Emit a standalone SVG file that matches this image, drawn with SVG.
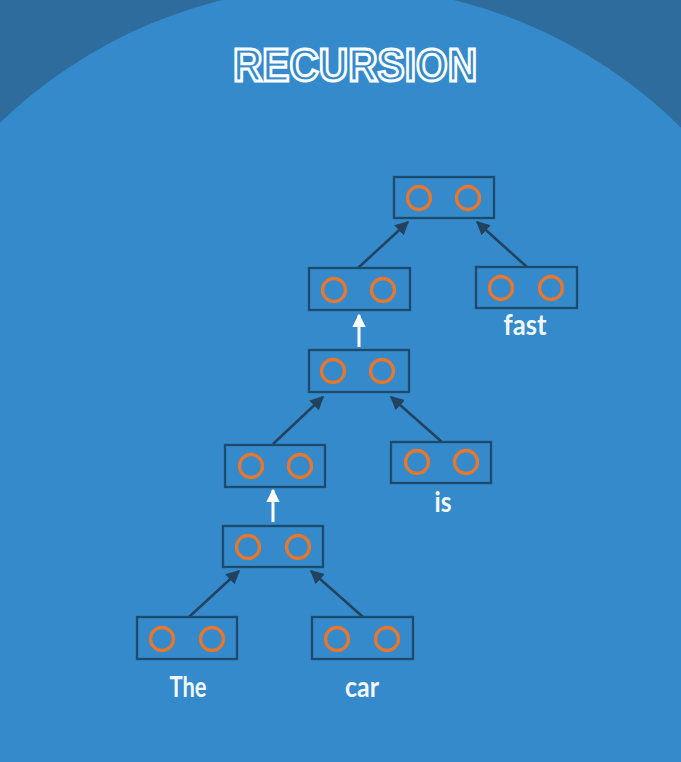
<svg xmlns="http://www.w3.org/2000/svg" width="681" height="762" viewBox="0 0 681 762">
<defs>
<style>
.box{fill:none;stroke:#1e4a6d;stroke-width:2.3}
.dot{fill:none;stroke:#e8772e;stroke-width:3.3}
.edge{stroke:#22425f;stroke-width:2.5;fill:none}
.up{stroke:#ffffff;stroke-width:3;fill:none}
.lbl{font-family:Lato,"Open Sans",sans-serif;font-size:28px;font-weight:bold;fill:#f2f7fb;text-anchor:middle}
</style>
<marker id="ah" viewBox="0 0 10 10" refX="9" refY="5" markerWidth="5.5" markerHeight="5.5" orient="auto" markerUnits="strokeWidth">
<path d="M0,0 L10,5 L0,10 Z" fill="#22425f"/>
</marker>
<marker id="wh" viewBox="0 0 10 10" refX="9" refY="5" markerWidth="4.5" markerHeight="4.5" orient="auto" markerUnits="strokeWidth">
<path d="M0,0 L10,5 L0,10 Z" fill="#ffffff"/>
</marker>
</defs>
<rect width="681" height="762" fill="#2d6c9c"/>
<circle cx="338" cy="472" r="486" fill="#348acb"/>
<text x="355" y="81" text-anchor="middle" font-family="'Liberation Sans',sans-serif" font-weight="bold" font-size="46" textLength="244" lengthAdjust="spacingAndGlyphs" fill="#348acb" stroke="#ffffff" stroke-width="3">RECURSION</text>
<g id="connectors">
<line class="edge" x1="358" y1="268" x2="408" y2="222" marker-end="url(#ah)"/>
<line class="edge" x1="527" y1="267" x2="477" y2="222" marker-end="url(#ah)"/>
<line class="up" x1="359" y1="347" x2="359" y2="315" marker-end="url(#wh)"/>
<line class="edge" x1="273" y1="444" x2="323" y2="397" marker-end="url(#ah)"/>
<line class="edge" x1="442" y1="442" x2="391" y2="397" marker-end="url(#ah)"/>
<line class="up" x1="273" y1="522" x2="273" y2="490" marker-end="url(#wh)"/>
<line class="edge" x1="189" y1="617" x2="239" y2="571" marker-end="url(#ah)"/>
<line class="edge" x1="363" y1="617" x2="311" y2="571" marker-end="url(#ah)"/>
</g>
<g id="n-top"><rect class="box" x="394" y="177" width="100" height="41"/><circle class="dot" cx="419" cy="198" r="11.5"/><circle class="dot" cx="468" cy="198" r="11.5"/></g>
<g id="n-fast"><rect class="box" x="476" y="267" width="101" height="41"/><circle class="dot" cx="501" cy="288" r="11.5"/><circle class="dot" cx="551" cy="288" r="11.5"/><text class="lbl" x="525" y="335" textLength="43" lengthAdjust="spacingAndGlyphs">fast</text></g>
<g id="n-l2"><rect class="box" x="309" y="268" width="101" height="42"/><circle class="dot" cx="334" cy="290" r="11.5"/><circle class="dot" cx="383" cy="290" r="11.5"/></g>
<g id="n-l3"><rect class="box" x="309" y="350" width="100" height="42"/><circle class="dot" cx="333" cy="371" r="11.5"/><circle class="dot" cx="382" cy="371" r="11.5"/></g>
<g id="n-l4"><rect class="box" x="225" y="445" width="100" height="42"/><circle class="dot" cx="251" cy="466" r="11.5"/><circle class="dot" cx="300" cy="466" r="11.5"/></g>
<g id="n-is"><rect class="box" x="391" y="442" width="100" height="41"/><circle class="dot" cx="417" cy="462" r="11.5"/><circle class="dot" cx="466" cy="462" r="11.5"/><text class="lbl" x="443" y="512" textLength="17" lengthAdjust="spacingAndGlyphs">is</text></g>
<g id="n-l5"><rect class="box" x="223" y="526" width="100" height="41"/><circle class="dot" cx="248" cy="547" r="11.5"/><circle class="dot" cx="298" cy="547" r="11.5"/></g>
<g id="n-the"><rect class="box" x="137" y="617" width="100" height="42"/><circle class="dot" cx="162" cy="639" r="11.5"/><circle class="dot" cx="212" cy="639" r="11.5"/><text class="lbl" x="188" y="697" textLength="37" lengthAdjust="spacingAndGlyphs">The</text></g>
<g id="n-car"><rect class="box" x="312" y="617" width="101" height="42"/><circle class="dot" cx="337" cy="639" r="11.5"/><circle class="dot" cx="387" cy="639" r="11.5"/><text class="lbl" x="362" y="697" textLength="34" lengthAdjust="spacingAndGlyphs">car</text></g>
</svg>
